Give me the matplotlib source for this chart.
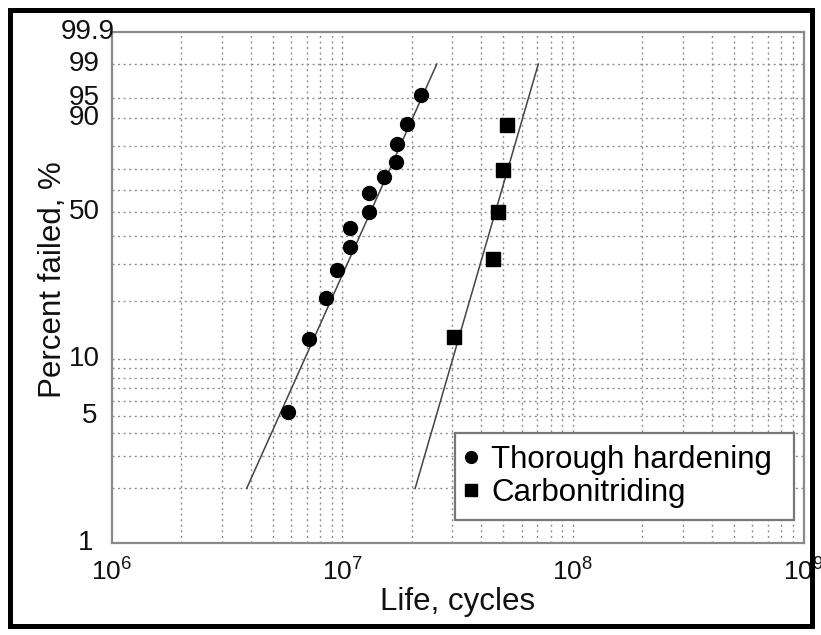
import numpy as np
import matplotlib
matplotlib.use("Agg")
import matplotlib.pyplot as plt
from matplotlib.patches import Rectangle
from matplotlib.transforms import blended_transform_factory

plt.rcParams['font.family'] = ['Liberation Sans', 'DejaVu Sans']
plt.rcParams['mathtext.fontset'] = 'custom'
plt.rcParams['mathtext.rm'] = 'Liberation Sans'

# data (life in cycles, percent failed)
th_life = [5.8e6, 7.2e6, 8.5e6, 9.5e6, 1.08e7, 1.08e7, 1.30e7, 1.31e7,
           1.52e7, 1.71e7, 1.72e7, 1.90e7, 2.19e7]
th_pct = [5.2, 12.7, 20.6, 28.1, 35.7, 43.3, 50.1, 58.6, 66.2, 73.1, 80.9, 88.1, 95.5]

cn_life = [3.05e7, 4.49e7, 4.72e7, 4.96e7, 5.16e7]
cn_pct = [13.1, 31.6, 50.1, 69.5, 87.9]

# fitted lines, end points (life at 2 % and 99 %)
fit_pct = [2, 99]
th_fit_life = [3.85e6, 2.57e7]
cn_fit_life = [2.07e7, 7.08e7]

y_ticks = [1, 5, 10, 50, 90, 95, 99, 99.9]
y_tick_labels = ['1', '5', '10', '50', '90', '95', '99', '99.9']
y_grid = [2, 3, 4, 5, 6, 7, 8, 9, 10, 20, 30, 40, 50, 60, 70, 80, 90, 95, 99]
x_exps = [6, 7, 8, 9]


def weib(p):
    p = np.clip(np.asarray(p, dtype=float), 1e-6, 99.99999)
    return np.log(-np.log(1 - p / 100.0))


def weib_inv(w):
    return 100.0 * (1 - np.exp(-np.exp(np.asarray(w, dtype=float))))


fig = plt.figure(figsize=(8.21, 6.35), dpi=100)
ax = fig.add_axes([0.136, 0.1449, 0.8427, 0.8042])
ax.set_xscale('log')
ax.set_yscale('function', functions=(weib, weib_inv))
ax.set_xlim(1e6, 1e9)
ax.set_ylim(1, 99.9)

grid_kw = dict(color='#8f8f8f', lw=1.0, ls=(0, (1.5, 2.5)), zorder=0)
for p in y_grid:
    ax.axhline(p, **grid_kw)
for dec in [1e6, 1e7, 1e8]:
    for m in range(1, 10):
        if dec * m > 1e6 and dec * m < 1e9:
            ax.axvline(dec * m, **grid_kw)

ax.plot(th_fit_life, fit_pct, color='#444444', lw=1.1, zorder=2)
ax.plot(cn_fit_life, fit_pct, color='#444444', lw=1.1, zorder=2)
ax.plot(th_life, th_pct, 'o', color='black', ms=10, zorder=3,
        label='Thorough hardening')
ax.plot(cn_life, cn_pct, 's', color='black', ms=10, zorder=3,
        label='Carbonitriding')

# y tick labels placed by hand, the originals are not all the same distance from the axis
ax.set_yticks([])
ax.yaxis.set_minor_locator(matplotlib.ticker.NullLocator())
trans = blended_transform_factory(ax.transAxes, ax.transData)
lab_x = {'1': -0.026, '5': -0.021, '99.9': 0.004}
for v, s in zip(y_ticks, y_tick_labels):
    ax.text(lab_x.get(s, -0.017), v, s, transform=trans, ha='right', va='center',
            fontsize=20, color='#111111',
            family=['Liberation Sans Narrow', 'Liberation Sans'])

ax.set_xticks([10.0 ** k for k in x_exps])
ax.set_xticklabels([r'$\mathregular{10^{%d}}$' % k for k in x_exps])
ax.xaxis.set_minor_locator(matplotlib.ticker.NullLocator())
ax.tick_params(axis='both', length=0, labelsize=19, colors='#111111')
ax.tick_params(axis='x', pad=11)

ax.set_xlabel('Life, cycles', fontsize=22.5, color='#111111', labelpad=1)
ax.set_ylabel('Percent failed, %', fontsize=22.5, color='#111111')
ax.yaxis.set_label_coords(-0.063, 0.515)

for s in ax.spines.values():
    s.set_color('#8a8a8a')
    s.set_linewidth(1.6)

# legend box drawn separately, it has more room on the right than the legend gives
box = Rectangle((0.4963, 0.045), 0.49, 0.1704, transform=ax.transAxes,
                facecolor='white', edgecolor='#777777', lw=1.6, zorder=4)
ax.add_patch(box)
leg = ax.legend(loc='center left', bbox_to_anchor=(0.4963, 0.13),
                borderaxespad=0, fontsize=22.5, handlelength=0.4,
                handletextpad=0.45, markerscale=0.85, labelspacing=0.1,
                frameon=False, borderpad=0.3)
leg.set_zorder(5)

# black frame round the picture
fig.patches.append(Rectangle((9.5 / 821, 9.5 / 635), 1 - 19 / 821, 1 - 19 / 635,
                             transform=fig.transFigure, fill=False,
                             edgecolor='black', lw=3.6))

fig.savefig('out.png', dpi=100)
